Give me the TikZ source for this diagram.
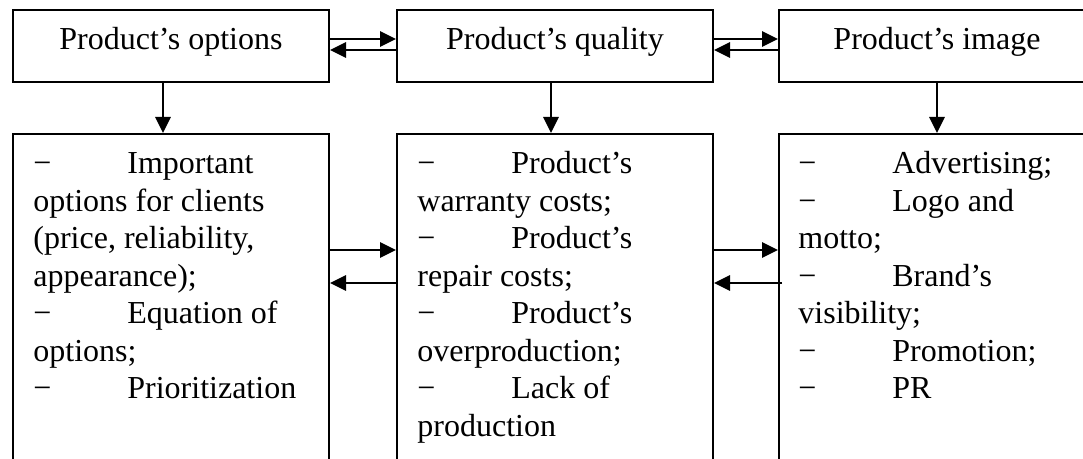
\documentclass[tikz,border=0pt]{standalone}
\usepackage{fontspec}
\setmainfont{Liberation Serif}
\usetikzlibrary{arrows.meta, positioning, calc}

\newcommand{\itm}{\makebox[47pt][l]{−}}

\begin{document}
\begin{tikzpicture}[x=0.5pt, y=-0.5pt,
    headbox/.style = {rectangle, draw=black, line width=1pt, anchor=north west, minimum width=158pt, minimum height=36pt, inner sep=0pt, text height=11pt, text depth=7pt, font=\fontsize{16}{18.75}\selectfont},
    listbox/.style = {rectangle, draw=black, line width=1pt, anchor=north west, minimum width=158pt, minimum height=180pt, inner sep=0pt},
    items/.style = {anchor=base west, inner sep=0pt, font=\fontsize{16}{18.75}\selectfont},
    link/.style = {-{Triangle[length=8pt, width=7.5pt]}, line width=1.4pt}
]
\useasboundingbox (0,0) rectangle (1083,459);
\clip (0,0) rectangle (1083,459);

% Headings
\node (opt) [headbox] at (12, 9) {Product’s options};
\node (qual) [headbox] at (396, 9) {Product’s quality};
\node (img) [headbox] at (778, 9) {Product’s image};

% Lists
\node (optlist) [listbox] at (12, 133) {};
\node (quallist) [listbox] at (396, 133) {};
\node (imglist) [listbox] at (778, 133) {};

\node (optitems) [items] at (33, 174) {\parbox[t]{140pt}{\itm Important\\
options for clients\\
(price, reliability,\\
appearance);\\
\itm Equation of\\
options;\\
\itm Prioritization}};
\node (qualitems) [items] at (417, 174) {\parbox[t]{140pt}{\itm Product’s\\
warranty costs;\\
\itm Product’s\\
repair costs;\\
\itm Product’s\\
overproduction;\\
\itm Lack of\\
production}};
\node (imgitems) [items] at (798, 174) {\parbox[t]{140pt}{\itm Advertising;\\
\itm Logo and\\
motto;\\
\itm Brand’s\\
visibility;\\
\itm Promotion;\\
\itm PR}};

% Links between headings
\draw [link] ([yshift=3.5pt]opt.east) -- ([yshift=3.5pt]qual.west);
\draw [link] ([yshift=-2pt]qual.west) -- ([yshift=-2pt]opt.east);
\draw [link] ([yshift=3.5pt]qual.east) -- ([yshift=3.5pt]img.west);
\draw [link] ([yshift=-2pt]img.west) -- ([yshift=-2pt]qual.east);

% Links down
\draw [link] ([xshift=-4pt]opt.south) -- ([xshift=-4pt]optlist.north);
\draw [link] ([xshift=-2pt]qual.south) -- ([xshift=-2pt]quallist.north);
\draw [link] (img.south) -- (imglist.north);

% Links between lists
\draw [link] ($(optlist.north east)+(0,117)$) -- ($(quallist.north west)+(0,117)$);
\draw [link] ($(quallist.north west)+(0,150)$) -- ($(optlist.north east)+(0,150)$);
\draw [link] ($(quallist.north east)+(0,117)$) -- ($(imglist.north west)+(0,117)$);
\draw [link] ($(imglist.north west)+(4,150)$) -- ($(quallist.north east)+(0,150)$);

\end{tikzpicture}
\end{document}
